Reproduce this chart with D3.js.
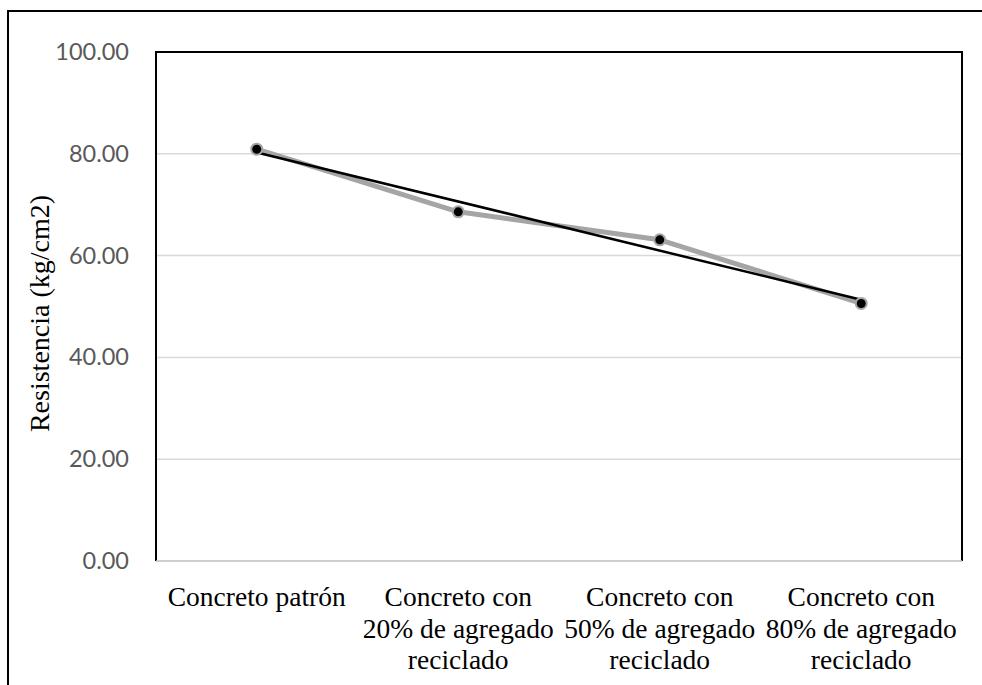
<!DOCTYPE html>
<html>
<head>
<meta charset="utf-8">
<script src="https://cdn.jsdelivr.net/npm/d3@7"></script>
<style>
  html, body { margin: 0; padding: 0; background: #fff; }
  svg { display: block; }
</style>
</head>
<body>
<svg id="chart" width="982" height="685"></svg>
<script>
// Compressive strength by concrete mix
const categories = [
  ["Concreto patrón"],
  ["Concreto con", "20% de agregado", "reciclado"],
  ["Concreto con", "50% de agregado", "reciclado"],
  ["Concreto con", "80% de agregado", "reciclado"]
];
const resistencia = [80.9, 68.6, 63.1, 50.6];
const yTicks = [0, 20, 40, 60, 80, 100];
const yTitle = "Resistencia (kg/cm2)";

const svg = d3.select("#chart");
const W = 982, H = 685;
const plot = { left: 156, top: 52, right: 962, bottom: 561 };

// Outer frame (runs off the right and bottom edges)
svg.append("path")
  .attr("d", `M8,${H + 5} L8,11 L${W + 5},11`)
  .attr("fill", "none").attr("stroke", "#000").attr("stroke-width", 2);

const x = d3.scaleBand()
  .domain(d3.range(categories.length))
  .range([plot.left, plot.right]);
const y = d3.scaleLinear().domain([0, 100]).range([plot.bottom, plot.top]);
const cx = i => x(i) + x.bandwidth() / 2;

// Gridlines
svg.append("g").selectAll("line").data(yTicks.filter(t => t > 0 && t < 100)).join("line")
  .attr("x1", plot.left).attr("x2", plot.right)
  .attr("y1", d => y(d)).attr("y2", d => y(d))
  .attr("stroke", "#d9d9d9").attr("stroke-width", 1.5);

// Plot area border
svg.append("path")
  .attr("d", `M${plot.left},${plot.bottom} L${plot.left},${plot.top} L${plot.right},${plot.top} L${plot.right},${plot.bottom}`)
  .attr("fill", "none").attr("stroke", "#000").attr("stroke-width", 2);

// Category axis line
svg.append("line")
  .attr("x1", plot.left).attr("x2", plot.right)
  .attr("y1", plot.bottom).attr("y2", plot.bottom)
  .attr("stroke", "#bfbfbf").attr("stroke-width", 1.5);

// Y tick labels
const yAxis = d3.axisLeft(y).tickValues(yTicks).tickFormat(d3.format(".2f")).tickSize(0).tickPadding(27);
const gy = svg.append("g").attr("transform", `translate(${plot.left},0)`).call(yAxis);
gy.select(".domain").remove();
gy.selectAll("text")
  .attr("fill", "#595959")
  .style("font-family", "Lato, 'Open Sans', sans-serif")
  .style("font-size", "23.5px");

// Category labels
const xl = svg.append("g");
categories.forEach((lines, i) => {
  const t = xl.append("text")
    .attr("x", cx(i)).attr("y", 606)
    .attr("text-anchor", "middle")
    .style("font-family", "'Liberation Serif', 'Times New Roman', serif")
    .style("font-size", "27.5px").attr("fill", "#000");
  lines.forEach((s, k) => t.append("tspan").attr("x", cx(i)).attr("dy", k === 0 ? 0 : 31.5).text(s));
});

// Y axis title
svg.append("text")
  .attr("transform", `translate(49,${(plot.top + plot.bottom) / 2 + 7}) rotate(-90)`)
  .attr("text-anchor", "middle")
  .style("font-family", "'Liberation Serif', 'Times New Roman', serif")
  .style("font-size", "28px").attr("fill", "#000")
  .text(yTitle);

// Data series
const line = d3.line().x((d, i) => cx(i)).y(d => y(d));
svg.append("path").datum(resistencia)
  .attr("d", line).attr("fill", "none")
  .attr("stroke", "#a5a5a5").attr("stroke-width", 5).attr("stroke-linejoin", "round");

// Linear trend line (least squares over category index)
const xs = resistencia.map((d, i) => i);
const mx = d3.mean(xs), my = d3.mean(resistencia);
const slope = d3.sum(xs, (xi, i) => (xi - mx) * (resistencia[i] - my)) / d3.sum(xs, xi => (xi - mx) ** 2);
const fit = xi => my + slope * (xi - mx);
const ends = [0, resistencia.length - 1];
svg.append("line")
  .attr("x1", cx(ends[0])).attr("y1", y(fit(ends[0])))
  .attr("x2", cx(ends[1])).attr("y2", y(fit(ends[1])))
  .attr("stroke", "#000").attr("stroke-width", 2.5);

// Markers
svg.append("g").selectAll("circle").data(resistencia).join("circle")
  .attr("cx", (d, i) => cx(i)).attr("cy", d => y(d)).attr("r", 5.5)
  .attr("fill", "#000").attr("stroke", "#a5a5a5").attr("stroke-width", 2);
</script>
</body>
</html>
